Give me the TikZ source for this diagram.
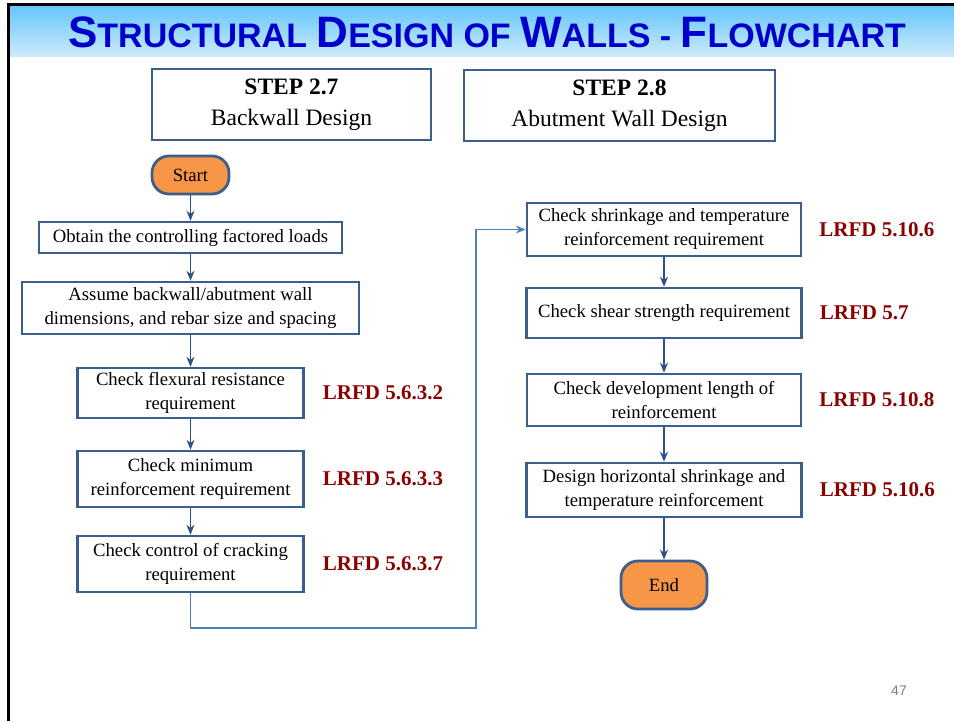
\documentclass[tikz,border=0pt]{standalone}
\usepackage{fontspec}
\setmainfont{Liberation Serif}
\newfontfamily\titlefont{Liberation Sans}
\usepackage{xcolor}
\usepackage{tikz}
\usetikzlibrary{arrows,arrows.meta,positioning}
\definecolor{boxblue}{HTML}{3B5E8C}
\definecolor{arrowblue}{HTML}{2A5288}
\definecolor{loopblue}{HTML}{4F81BD}
\definecolor{startorange}{HTML}{F79646}
\definecolor{lrfdred}{HTML}{8B0000}
\definecolor{titleblue}{HTML}{0000CC}
\definecolor{bandtop}{HTML}{66C6FA}
\definecolor{bandbot}{HTML}{CDEBFC}
\tikzstyle{block} = [rectangle, draw = boxblue, line width = 2.5pt, fill = white, align = center, inner sep = 2pt, font = \fontsize{18.7}{24}\selectfont]
\tikzstyle{stepbox} = [rectangle, draw = boxblue, line width = 1.8pt, align = center, font = \fontsize{23.5}{31}\selectfont]
\tikzstyle{term} = [rectangle, rounded corners = 17pt, draw = boxblue, line width = 2.8pt, fill = startorange, font = \fontsize{18.7}{24}\selectfont]
\tikzstyle{lrfd} = [anchor = west, inner sep = 0pt, text = lrfdred, font = \fontsize{21}{24}\selectfont\bfseries]
\tikzstyle{line} = [line width = 1.4pt, draw = arrowblue, -{Stealth[length = 10pt, width = 8pt]}]
\newcommand{\scword}[2]{{\fontsize{44}{46}\selectfont #1}{\fontsize{34}{36}\selectfont #2}}

\begin{document}
\begin{tikzpicture}[x = 1pt, y = 1pt]
        \useasboundingbox (0,0) rectangle (954,721);
        % slide frame and title band
        \shade[top color = bandtop, bottom color = bandbot] (9,715) rectangle (954,664);
        \draw[line width = 3pt] (8,0) -- (8,716) -- (954,716);
        \node (title) at (487,689) {\titlefont\bfseries\color{titleblue}\fontsize{34}{36}\selectfont\scword{S}{TRUCTURAL} \scword{D}{ESIGN} OF \scword{W}{ALLS} - \scword{F}{LOWCHART}};
        \node (step27) [stepbox, minimum width = 279pt, minimum height = 71pt] at (291.5,616.5) {\textbf{STEP 2.7}\\Backwall Design};
        \node (step28) [stepbox, minimum width = 311pt, minimum height = 71pt] at (619.5,615.5) {\textbf{STEP 2.8}\\Abutment Wall Design};
        % left column
        \node (start) [term, minimum width = 77pt, minimum height = 38pt] at (190.5,546) {Start};
        \node (loads) [block, below of = start, node distance = 62.5pt, minimum width = 303pt, minimum height = 31pt] {Obtain the controlling factored loads};
        \node (assume) [block, below of = loads, node distance = 70.5pt, minimum width = 337pt, minimum height = 52pt] {Assume backwall/abutment wall\\dimensions, and rebar size and spacing};
        \node (flex) [block, below of = assume, node distance = 85pt, minimum width = 226pt, minimum height = 50pt] {Check flexural resistance\\requirement};
        \node (minreinf) [block, below of = flex, node distance = 86pt, minimum width = 226pt, minimum height = 56pt] {Check minimum\\reinforcement requirement};
        \node (crack) [block, below of = minreinf, node distance = 85pt, minimum width = 226pt, minimum height = 56pt] {Check control of cracking\\requirement};
        \node (lrfdflex) [lrfd, right = 18pt of flex] {LRFD 5.6.3.2};
        \node (lrfdmin) [lrfd, right = 18pt of minreinf] {LRFD 5.6.3.3};
        \node (lrfdcrack) [lrfd, right = 18pt of crack] {LRFD 5.6.3.7};
        % right column
        \node (shrink) [block, minimum width = 274pt, minimum height = 53pt] at (664,491.5) {Check shrinkage and temperature\\reinforcement requirement};
        \node (shear) [block, below of = shrink, node distance = 83.5pt, minimum width = 275pt, minimum height = 50pt] {Check shear strength requirement};
        \node (devlen) [block, below of = shear, node distance = 87pt, minimum width = 274pt, minimum height = 52pt] {Check development length of\\reinforcement};
        \node (horiz) [block, below of = devlen, node distance = 90pt, minimum width = 275pt, minimum height = 54pt] {Design horizontal shrinkage and\\temperature reinforcement};
        \node (end) [term, below of = horiz, node distance = 95pt, minimum width = 86pt, minimum height = 48pt] {End};
        \node (lrfdshrink) [lrfd, right = 17pt of shrink] {LRFD 5.10.6};
        \node (lrfdshear) [lrfd, right = 17pt of shear] {LRFD 5.7};
        \node (lrfddev) [lrfd, right = 17pt of devlen] {LRFD 5.10.8};
        \node (lrfdhoriz) [lrfd, right = 17pt of horiz] {LRFD 5.10.6};
        \coordinate (loopend) at (476,93);
        \draw[line] (start) -- (loads);
        \draw[line] (loads) -- (assume);
        \draw[line] (assume) -- (flex);
        \draw[line] (flex) -- (minreinf);
        \draw[line] (minreinf) -- (crack);
        \draw[line, draw = loopblue, line width = 1.6pt] (crack.south) |- (loopend) |- (shrink.west);
        \draw[line] (shrink) -- (shear);
        \draw[line] (shear) -- (devlen);
        \draw[line] (devlen) -- (horiz);
        \draw[line] (horiz) -- (end);
        \node (pagenum) at (899,30) {\titlefont\fontsize{14}{16}\selectfont\color{gray}47};
    \end{tikzpicture}
\end{document}
